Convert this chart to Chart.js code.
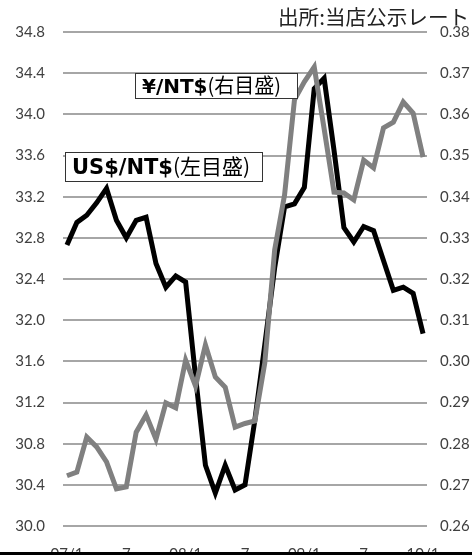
<!DOCTYPE html>
<html>
<head>
<meta charset="utf-8">
<script src="https://cdn.jsdelivr.net/npm/chart.js@4/dist/chart.umd.min.js"></script>
<style>
  html, body { margin: 0; padding: 0; background: #fff; }
  #wrap { width: 472px; height: 555px; position: relative; overflow: hidden; }
</style>
</head>
<body>
<div id="wrap"><canvas id="rateChart" width="472" height="555"></canvas></div>
<script>
// monthly, 2007/1 .. 2010/1
const months = [
  '07/1','07/2','07/3','07/4','07/5','07/6','07/7','07/8','07/9','07/10','07/11','07/12',
  '08/1','08/2','08/3','08/4','08/5','08/6','08/7','08/8','08/9','08/10','08/11','08/12',
  '09/1','09/2','09/3','09/4','09/5','09/6','09/7','09/8','09/9','09/10','09/11','09/12',
  '10/1'
];
const tickLabels = ['07/1', '7', '08/1', '7', '09/1', '7', '10/1'];
const tickEvery = 6;

// US$/NT$ (left scale)
const usdNtd = [
  32.73, 32.95, 33.02, 33.14, 33.28, 32.97, 32.80, 32.97, 33.00, 32.55, 32.32, 32.43,
  32.37, 31.45, 30.59, 30.32, 30.59, 30.35, 30.40, 31.03, 31.76, 32.51, 33.10, 33.13,
  33.29, 34.25, 34.35, 33.65, 32.90, 32.76, 32.91, 32.87, 32.58, 32.29, 32.32, 32.26,
  31.87
];
// ¥/NT$ (right scale)
const jpyNtd = [
  0.2722, 0.2731, 0.2816, 0.2792, 0.2756, 0.2690, 0.2695, 0.2828, 0.2870, 0.2811, 0.2899, 0.2887,
  0.3003, 0.2940, 0.3040, 0.2962, 0.2937, 0.2840, 0.2849, 0.2855, 0.2996, 0.3271, 0.3404, 0.3635,
  0.3679, 0.3715, 0.3565, 0.3411, 0.3409, 0.3392, 0.3489, 0.3470, 0.3567, 0.3581, 0.3630, 0.3603,
  0.3496
];

const tickFont = { family: 'Lato, "DejaVu Sans", sans-serif', size: 15 };
const tickColor = '#404040';

// boxes, source note and bottom rule
const notes = {
  id: 'notes',
  afterDraw(chart) {
    const ctx = chart.ctx;
    ctx.save();

    ctx.fillStyle = '#222';
    ctx.font = '20.6px "Noto Sans CJK JP"';
    ctx.textBaseline = 'alphabetic';
    ctx.fillText('出所:当店公示レート', 278, 25);

    const drawBox = (x, y, w, h, bold, rest, bSize, rSize) => {
      ctx.fillStyle = '#fff';
      ctx.fillRect(x, y, w, h);
      ctx.strokeStyle = '#333';
      ctx.lineWidth = 1;
      ctx.strokeRect(x + 0.5, y + 0.5, w, h);
      ctx.fillStyle = '#000';
      ctx.textBaseline = 'alphabetic';
      ctx.font = 'bold ' + bSize + 'px "DejaVu Sans"';
      const bw = ctx.measureText(bold).width;
      const base = y + h / 2 + bSize * 0.36;
      ctx.fillText(bold, x + 7, base);
      ctx.font = rSize + 'px "Noto Sans CJK JP"';
      ctx.fillText(rest, x + 7 + bw, base);
    };
    drawBox(135, 73, 162, 25, '¥/NT$', '(右目盛)', 20, 20);
    drawBox(65, 152, 197, 29, 'US$/NT$', '(左目盛)', 21, 21);

    ctx.fillStyle = '#000';
    ctx.fillRect(0, 552, 472, 3);
    ctx.restore();
  }
};

new Chart(document.getElementById('rateChart'), {
  type: 'line',
  data: {
    datasets: [
      {
        label: '¥/NT$',
        data: jpyNtd.map((v, i) => ({ x: i, y: v })),
        yAxisID: 'yR',
        borderColor: '#808080',
        borderWidth: 5,
        pointRadius: 0,
        tension: 0,
        order: 0
      },
      {
        label: 'US$/NT$',
        data: usdNtd.map((v, i) => ({ x: i, y: v })),
        yAxisID: 'yL',
        borderColor: '#000',
        borderWidth: 5,
        pointRadius: 0,
        tension: 0,
        order: 1
      }
    ]
  },
  options: {
    responsive: false,
    animation: false,
    layout: { padding: { top: 32, left: 0, right: 0, bottom: 0 } },
    plugins: { legend: { display: false }, tooltip: { enabled: false } },
    scales: {
      x: {
        type: 'linear',
        min: -0.4,
        max: months.length - 1 + 0.4,
        grid: { display: false, drawTicks: false },
        border: { display: false },
        afterBuildTicks: s => {
          s.ticks = tickLabels.map((_, k) => ({ value: k * tickEvery }));
        },
        afterFit: s => { s.height = 29; },
        ticks: {
          autoSkip: false,
          maxRotation: 0,
          padding: 19,
          font: tickFont,
          color: tickColor,
          callback: v => tickLabels[v / tickEvery]
        }
      },
      yL: {
        position: 'left',
        min: 30,
        max: 34.8,
        grid: { color: '#a6a6a6', lineWidth: 2, drawTicks: false },
        border: { display: false },
        afterFit: s => { s.width = 63; },
        ticks: {
          stepSize: 0.4,
          padding: 18,
          font: tickFont,
          color: tickColor,
          callback: v => v.toFixed(1)
        }
      },
      yR: {
        position: 'right',
        min: 0.26,
        max: 0.38,
        grid: { display: false, drawTicks: false },
        border: { display: false },
        afterFit: s => { s.width = 45; },
        ticks: {
          stepSize: 0.01,
          padding: 13,
          font: tickFont,
          color: tickColor,
          callback: v => v.toFixed(2)
        }
      }
    }
  },
  plugins: [notes]
});
</script>
</body>
</html>
